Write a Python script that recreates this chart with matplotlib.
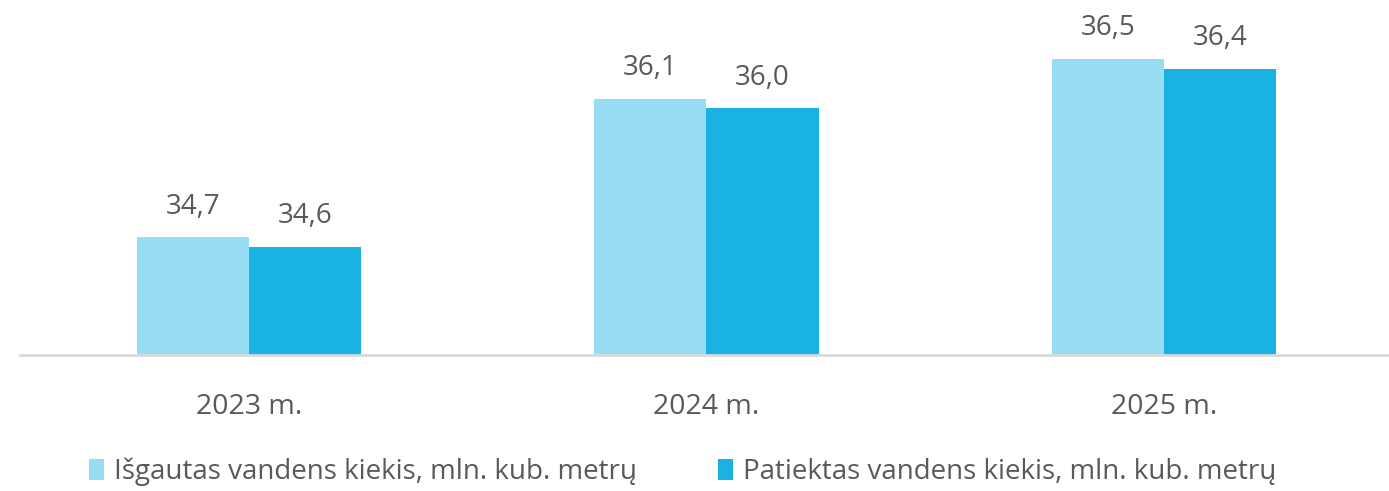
import matplotlib

matplotlib.use("Agg")
import matplotlib.pyplot as plt
import numpy as np

YEARS = ["2023 m.", "2024 m.", "2025 m."]
EXTRACTED = [34.7, 36.1, 36.5]
SUPPLIED = [34.6, 36.0, 36.4]
SERIES_LABELS = [
    "Išgautas vandens kiekis, mln. kub. metrų",
    "Patiektas vandens kiekis, mln. kub. metrų",
]

COLORS = ["#97DDF4", "#19B2E2"]
TEXT_COLOR = "#595959"

plt.rcParams["font.family"] = ["Open Sans", "DejaVu Sans"]


def main():
    fig = plt.figure(figsize=(13.89, 4.91), dpi=100)
    ax = fig.add_axes([20 / 1389, 1 - 355 / 491, 1373 / 1389, 370 / 491])

    x = np.arange(len(YEARS))
    width = 0.245
    for offset, values, color, label in [
        (-width / 2, EXTRACTED, COLORS[0], SERIES_LABELS[0]),
        (width / 2, SUPPLIED, COLORS[1], SERIES_LABELS[1]),
    ]:
        bars = ax.bar(x + offset, values, width, color=color, label=label)
        ax.bar_label(
            bars,
            labels=[f"{v:.1f}".replace(".", ",") for v in values],
            padding=12,
            fontsize=20,
            color=TEXT_COLOR,
        )

    ax.set_xlim(-0.5, 2.5)
    ax.set_ylim(33.51, 33.51 + 370 / 99)
    ax.set_xticks(x)
    ax.set_xticklabels(YEARS, fontsize=20.5, color=TEXT_COLOR)
    ax.tick_params(axis="x", length=0, pad=27)
    ax.set_yticks([])
    for side in ["top", "right", "left"]:
        ax.spines[side].set_visible(False)
    ax.spines["bottom"].set_color("#D9D9D9")
    ax.spines["bottom"].set_linewidth(2)

    fig.legend(
        loc="center left",
        bbox_to_anchor=(64 / 1389, 1 - 472 / 491),
        ncol=2,
        frameon=False,
        fontsize=20,
        labelcolor=TEXT_COLOR,
        handlelength=0.55,
        handleheight=0.75,
        handletextpad=0.35,
        columnspacing=2.9,
    )

    fig.savefig("out.png", dpi=100)
    plt.close(fig)


if __name__ == "__main__":
    main()
